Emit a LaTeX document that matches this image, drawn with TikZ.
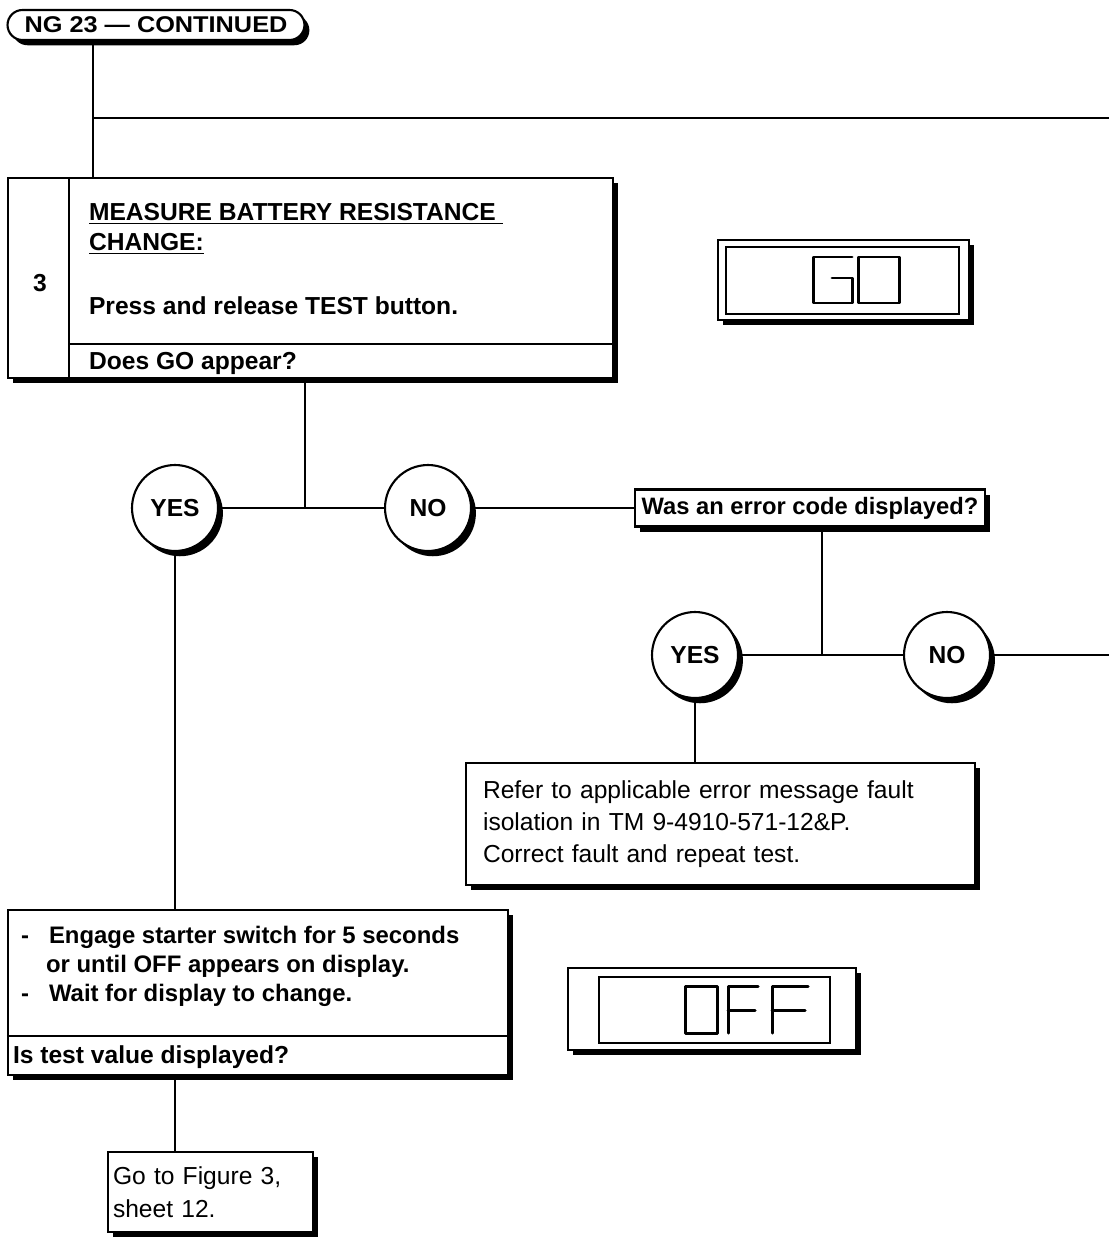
\documentclass[tikz,border=0pt]{standalone}
\usepackage{fontspec}
\setmainfont{Liberation Sans}
\usepackage{tikz}
\usetikzlibrary{shapes, shapes.misc, positioning, calc, shadows}

\begin{document}
\begin{tikzpicture}[x=0.02cm, y=-0.02cm, line width=1.2pt,
		sbox/.style={draw, fill=white, line width=1.2pt, inner sep=0pt,
			drop shadow={shadow xshift=2.8pt, shadow yshift=-3pt, opacity=1, fill=black}},
		ans/.style={sbox, circle, minimum size=1.72cm, font=\fontsize{14}{16}\selectfont\bfseries},
		bt/.style={anchor=base west, inner sep=0pt, font=\fontsize{14}{17}\selectfont\bfseries},
		seg/.style={line width=1.7pt, line cap=round, line join=round}]
	\useasboundingbox (0,0) rectangle (1109,1239);

	% Encabezado
	\node[sbox, rounded rectangle, minimum width=5.94cm, minimum height=0.6cm,
		font=\fontsize{14.4}{16}\selectfont\bfseries] (hdr) at (156,25)
		{\scalebox{1}[0.9]{NG 23 — CONTINUED}};
	\coordinate (j0) at (93,118);
	\coordinate (e1) at (1109,118);

	% Paso 3
	\node[sbox, minimum width=12.1cm, minimum height=4cm] (b3) at (310.5,278) {};
	\draw ($(b3.north west)+(62,0)$) -- ($(b3.south west)+(62,0)$);
	\draw ($(b3.south west)+(62,-35)$) -- ($(b3.south east)+(0,-35)$);
	\node[font=\fontsize{14}{17}\selectfont\bfseries] (b3num) at (40,283) {3};
	\node[bt] (b3t1) at (88,221) {\underline{MEASURE BATTERY RESISTANCE\ }};
	\node[bt] (b3t2) at (88,251) {\underline{CHANGE:}};
	\node[bt] (b3t3) at (88,315) {Press and release TEST button.};
	\node[bt] (b3q) at (88,370) {Does GO appear?};

	\draw (hdr.south -| j0) -- (b3.north -| j0);
	\draw (j0) -- (e1);

	% Pantalla GO
	\node[sbox, minimum width=5.02cm, minimum height=1.6cm] (godisp) at (843.5,280) {};
	\draw ($(godisp.north west)+(9,8)$) rectangle ($(godisp.south east)+(-11,-7)$);
	\draw[seg] (852,257) -- (813,257) -- (813,303) -- (852,303) -- (852,278) -- (832,278);
	\draw[seg] (858,257) rectangle (899,303);

	% SI / NO
	\coordinate (j1) at (305,508);
	\node[ans] (yes1) at (175,508) {YES};
	\node[ans] (no1) at (428,508) {NO};
	\node[sbox, minimum width=7cm, minimum height=0.74cm,
		font=\fontsize{13.5}{16}\selectfont\bfseries] (q1) at (810,508) {Was an error code displayed?};
	\draw (b3.south -| j1) -- (j1);
	\draw (yes1) -- (no1);
	\draw (no1.east) -- (no1.east -| q1.west);

	\coordinate (j2) at (822,655);
	\coordinate (e2) at (1109,655);
	\node[ans] (yes2) at (695,655) {YES};
	\node[ans] (no2) at (947,655) {NO};
	\draw (q1.south -| j2) -- (j2);
	\draw (yes2) -- (no2);
	\draw (no2.east) -- (e2);

	% Codigo de error
	\node[sbox, minimum width=10.18cm, minimum height=2.44cm, text width=9.5cm,
		inner xsep=0.34cm, align=left, font=\fontsize{14}{18.4}\selectfont] (refer) at (720.5,824)
		{Refer to applicable error message fault\\isolation in TM 9-4910-571-12\&P.\\Correct fault and repeat test.};
	\draw (yes2.south) -- (yes2.south |- refer.north);

	% Arranque
	\node[sbox, minimum width=10cm, minimum height=3.3cm] (engage) at (258,992.5) {};
	\draw ($(engage.south west)+(0,-40)$) -- ($(engage.south east)+(0,-40)$);
	\node[anchor=west, inner sep=0pt, align=left, font=\fontsize{13.6}{16.3}\selectfont\bfseries] (engtxt) at (20,966.5)
		{\makebox[0.56cm][l]{-}Engage starter switch for 5 seconds\\
		 \hspace*{0.5cm}or until OFF appears on display.\\
		 \makebox[0.56cm][l]{-}Wait for display to change.};
	\node[bt] (engq) at (12,1063) {Is test value displayed?};
	\draw (yes1.south) -- (yes1.south |- engage.north);

	% Pantalla OFF
	\node[sbox, minimum width=5.76cm, minimum height=1.64cm] (offdisp) at (712,1009) {};
	\draw ($(offdisp.north west)+(32,10)$) rectangle ($(offdisp.south east)+(-27,-8)$);
	\draw[seg] (685,986) rectangle (717,1033);
	\draw[seg] (758,986) -- (728,986) -- (728,1033) (728,1010) -- (755,1010);
	\draw[seg] (808,986) -- (772,986) -- (772,1033) (772,1010) -- (805,1010);

	% Ir a figura
	\node[sbox, minimum width=4.1cm, minimum height=1.6cm, text width=3.9cm,
		inner xsep=0.1cm, align=left, font=\fontsize{14}{18.7}\selectfont] (goto) at (210.5,1192)
		{Go to Figure 3,\\sheet 12.};
	\draw (yes1.south |- engage.south) -- (yes1.south |- goto.north);
\end{tikzpicture}
\end{document}
